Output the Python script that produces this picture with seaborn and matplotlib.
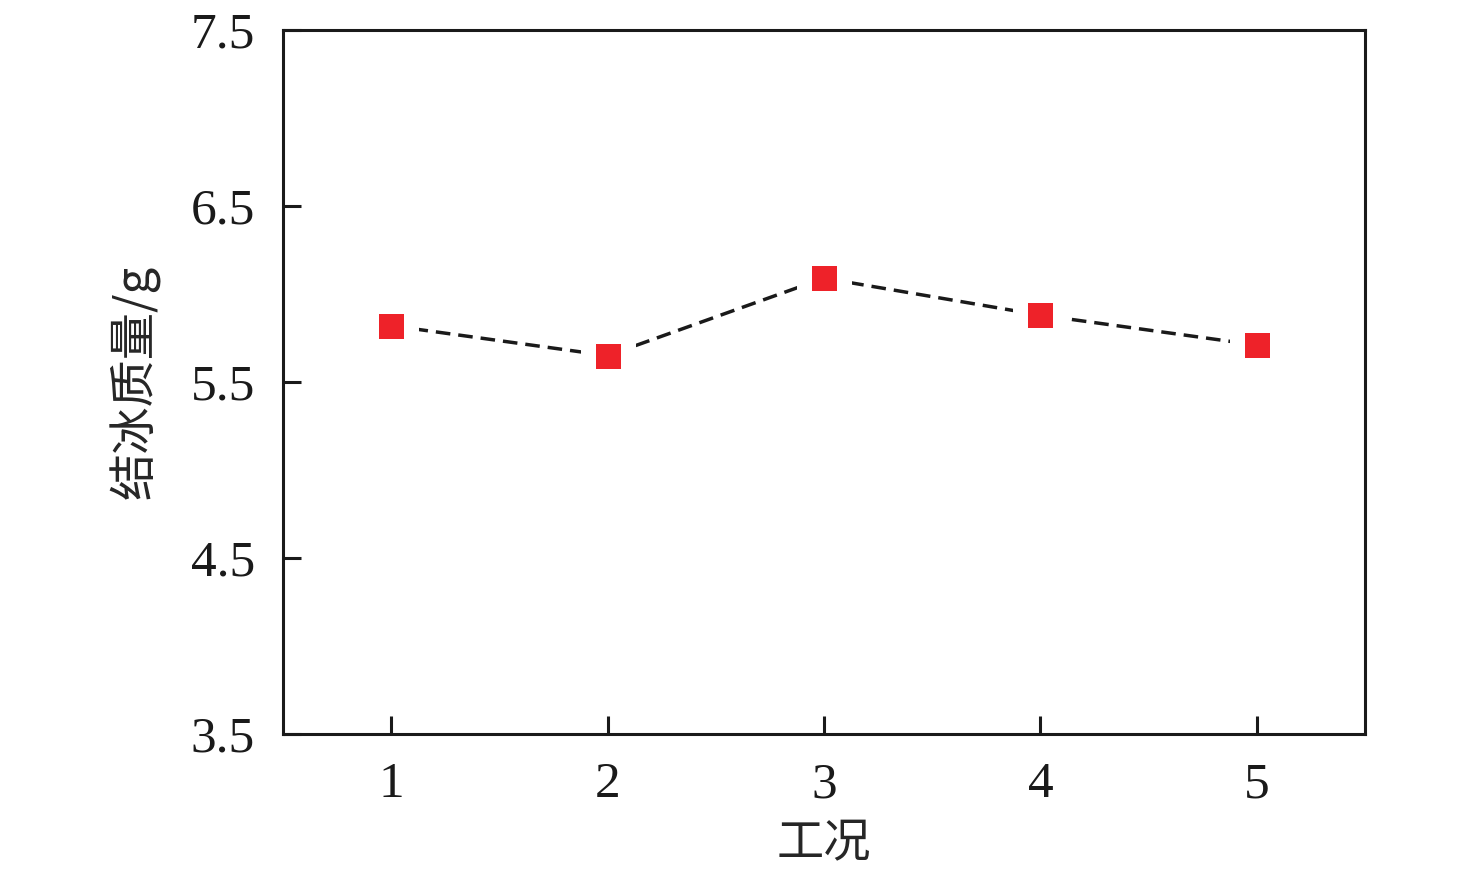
import numpy as np
import pandas as pd
import seaborn as sns
import matplotlib
matplotlib.use('Agg')
import matplotlib.pyplot as plt

# data
cases = [1, 2, 3, 4, 5]
ice_mass = [5.82, 5.65, 6.09, 5.88, 5.71]
y_ticks = [3.5, 4.5, 5.5, 6.5, 7.5]

df = pd.DataFrame({'case': cases, 'mass': ice_mass})

sns.set_style('ticks')
plt.rcParams['font.family'] = ['Liberation Serif', 'Noto Sans CJK SC']
plt.rcParams['axes.unicode_minus'] = False

fig = plt.figure(figsize=(14.76, 8.85), dpi=100)
ax = fig.add_axes([0.1917, 0.1706, 0.7331, 0.7955])

sns.lineplot(data=df, x='case', y='mass', ax=ax, color='#1a1a1a',
             linewidth=2.5, dashes=False, zorder=2)
ax.lines[0].set_dashes((4.2, 2.3))
ax.plot(df['case'], df['mass'], linestyle='none', marker='s',
        markersize=28.8, markerfacecolor='#ee2229', markeredgecolor='white',
        markeredgewidth=10.8, zorder=3)

ax.set_xlim(0.5, 5.5)
ax.set_ylim(3.5, 7.5)
ax.set_xticks(cases)
ax.set_yticks(y_ticks)
ax.set_yticklabels([f'{v:.1f}' for v in y_ticks])

for s in ax.spines.values():
    s.set_linewidth(2.2)
    s.set_color('#1a1a1a')
ax.tick_params(direction='in', length=13, width=2.2, color='#1a1a1a',
               labelsize=37, labelcolor='#1a1a1a')
ax.tick_params(axis='x', pad=20)
ax.tick_params(axis='y', pad=20)

ax.set_xlabel('工况', fontsize=34, family=['Noto Sans CJK SC'], labelpad=8)
ax.set_ylabel('结冰质量/g', fontsize=34, family=['Noto Sans CJK SC', 'Liberation Serif'], labelpad=22)

fig.savefig('out.png', dpi=100)
